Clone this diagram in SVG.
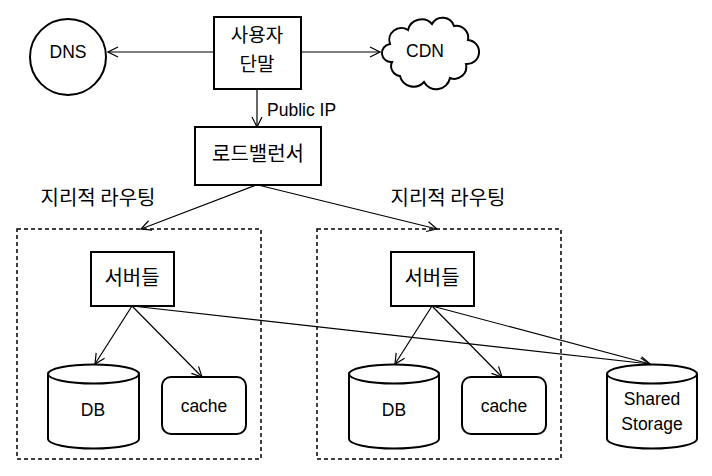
<svg xmlns="http://www.w3.org/2000/svg" width="712" height="476" viewBox="0 0 712 476">
<defs>
<style>
.n{fill:#fff;stroke:#000;stroke-width:2}
.d{fill:none;stroke:#000;stroke-width:1.5;stroke-dasharray:4,3}
.c{fill:none;stroke:#000;stroke-width:1.2;marker-end:url(#ah)}
.k{font-family:"Noto Sans CJK KR","Noto Sans",sans-serif;font-size:20px;fill:#000;text-anchor:middle}
.l{font-family:"Liberation Sans",Arial,sans-serif;font-size:17.5px;fill:#000;text-anchor:middle}
</style>
<marker id="ah" viewBox="0 0 12 12" refX="11" refY="6" markerWidth="12" markerHeight="12" markerUnits="userSpaceOnUse" orient="auto">
<path d="M1,1 L11,6 L1,11" fill="none" stroke="#000" stroke-width="1.2"/>
</marker>
</defs>
<rect width="712" height="476" fill="#fff"/>

<g id="connectors">
<line class="c" x1="214" y1="52" x2="108" y2="52"/>
<line class="c" x1="301" y1="52" x2="380" y2="52"/>
<line class="c" x1="257" y1="89" x2="257" y2="127"/>
<line class="c" x1="256" y1="185" x2="141" y2="229"/>
<line class="c" x1="258" y1="185" x2="437" y2="229"/>
<line class="c" x1="132" y1="306" x2="95" y2="364"/>
<line class="c" x1="132" y1="306" x2="202" y2="377"/>
<line class="c" x1="132" y1="306" x2="650" y2="364"/>
<line class="c" x1="432" y1="306" x2="395" y2="364"/>
<line class="c" x1="432" y1="306" x2="502" y2="377"/>
<line class="c" x1="432" y1="306" x2="650" y2="364"/>
<text class="l" x="267" y="116" style="text-anchor:start">Public IP</text>
</g>

<g id="region-left"><rect class="d" x="17" y="229" width="244" height="230"/></g>
<g id="region-right"><rect class="d" x="317" y="229" width="244" height="230"/></g>
<g id="label-left"><text class="k" x="98" y="205">지리적 라우팅</text></g>
<g id="label-right"><text class="k" x="448" y="205">지리적 라우팅</text></g>

<g id="dns">
<circle class="n" cx="68" cy="57" r="38"/>
<text class="l" x="68" y="58">DNS</text>
</g>

<g id="user">
<rect class="n" x="214" y="17" width="87" height="72"/>
<text class="k" x="257" y="42" style="font-size:19px">사용자</text>
<text class="k" x="257" y="71" style="font-size:19px">단말</text>
</g>

<g id="cdn">
<path class="n" d="M390,44 a12,12 0 0 1 18,-14 a14,14 0 0 1 24,-6 a12,12 0 0 1 22,2 a12,12 0 0 1 14,14 a11,11 0 0 1 -2,24 a12,12 0 0 1 -16,14 a14,14 0 0 1 -26,4 a14,14 0 0 1 -24,-6 a10,10 0 0 1 -8,-14 a9,9 0 0 1 -2,-18 Z"/>
<text class="l" x="425" y="57">CDN</text>
</g>

<g id="lb">
<rect class="n" x="195" y="127" width="126" height="58"/>
<text class="k" x="258" y="161">로드밸런서</text>
</g>

<g id="servers-left">
<rect class="n" x="91" y="252" width="83" height="54"/>
<text class="k" x="132" y="285">서버들</text>
</g>
<g id="servers-right">
<rect class="n" x="391" y="252" width="83" height="54"/>
<text class="k" x="432" y="285">서버들</text>
</g>

<g id="db-left">
<path class="n" d="M48,374 a45.5,9.5 0 0 1 91,0 v65 a45.5,9.5 0 0 1 -91,0 Z"/>
<path class="n" d="M48,374 a45.5,9.5 0 0 0 91,0" fill="none"/>
<text class="l" x="93" y="416">DB</text>
</g>
<g id="cache-left">
<rect class="n" x="162" y="377" width="84" height="57" rx="9"/>
<text class="l" x="204" y="412">cache</text>
</g>

<g id="db-right">
<path class="n" d="M349,374 a45,9.5 0 0 1 90,0 v65 a45,9.5 0 0 1 -90,0 Z"/>
<path class="n" d="M349,374 a45,9.5 0 0 0 90,0" fill="none"/>
<text class="l" x="394" y="416">DB</text>
</g>
<g id="cache-right">
<rect class="n" x="462" y="377" width="84" height="57" rx="9"/>
<text class="l" x="504" y="412">cache</text>
</g>

<g id="shared-storage">
<path class="n" d="M607,374 a45,9.5 0 0 1 90,0 v65 a45,9.5 0 0 1 -90,0 Z"/>
<path class="n" d="M607,374 a45,9.5 0 0 0 90,0" fill="none"/>
<text class="l" x="652" y="405">Shared</text>
<text class="l" x="652" y="430">Storage</text>
</g>
</svg>
